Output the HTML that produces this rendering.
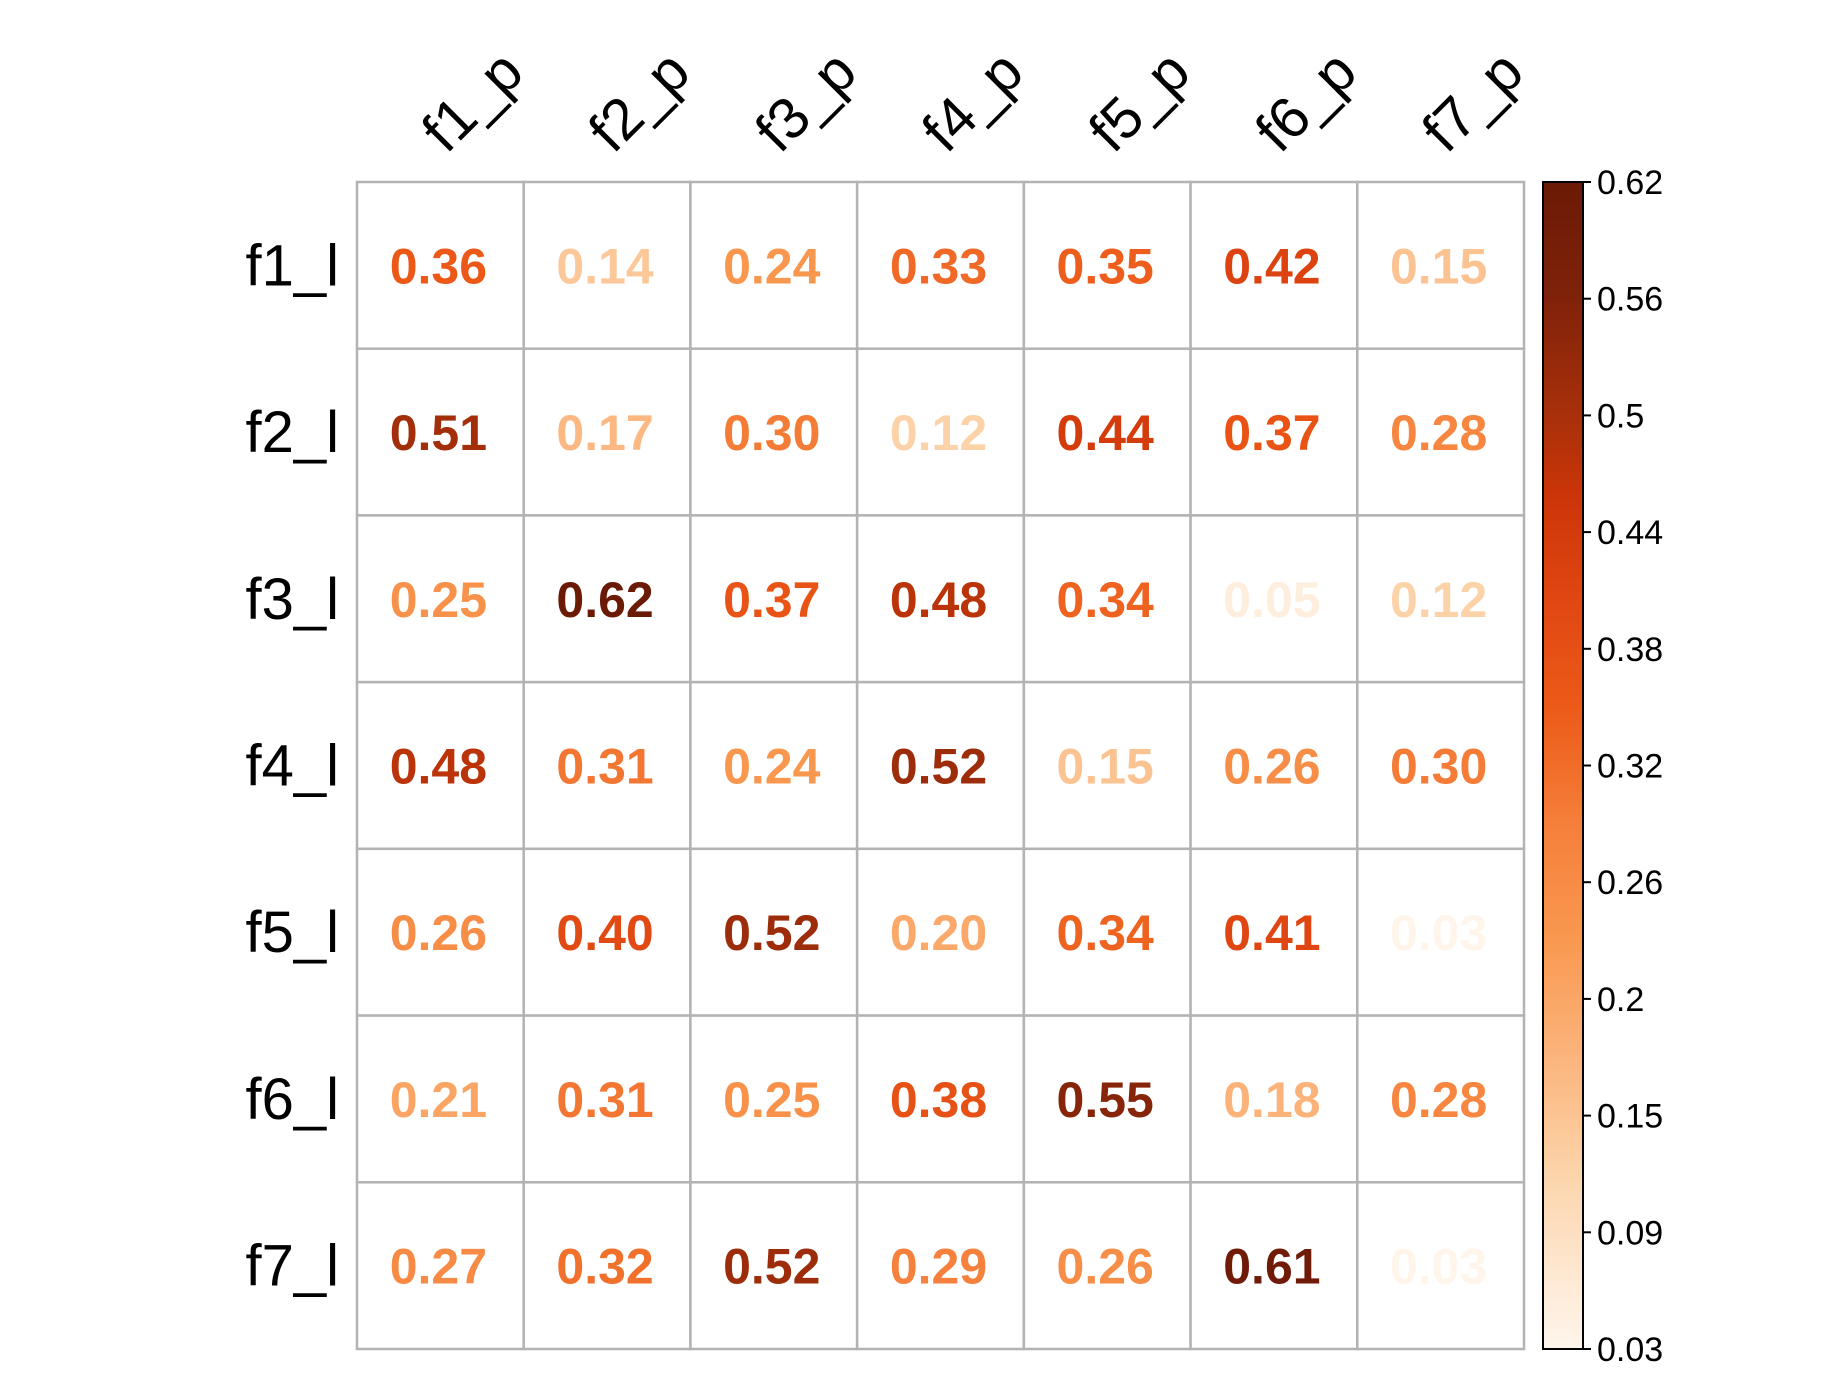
<!DOCTYPE html>
<html><head><meta charset="utf-8"><style>
html,body{margin:0;padding:0;background:#fff;}
svg{display:block;font-family:"Liberation Sans",Arial,sans-serif;}
</style></head><body>
<svg id="chart" width="1838" height="1400" viewBox="0 0 1838 1400" xmlns="http://www.w3.org/2000/svg">
<defs>
<linearGradient id="cbgrad" x1="0" y1="1" x2="0" y2="0"></linearGradient>
</defs>
<g id="cells"></g>
<g id="labels"></g>
<g id="colorbar"></g>
</svg>
<script>
const rowLabels = ["f1_l","f2_l","f3_l","f4_l","f5_l","f6_l","f7_l"];
const colLabels = ["f1_p","f2_p","f3_p","f4_p","f5_p","f6_p","f7_p"];
const row1 = [0.36,0.14,0.24,0.33,0.35,0.42,0.15];
const row2 = [0.51,0.17,0.30,0.12,0.44,0.37,0.28];
const row3 = [0.25,0.62,0.37,0.48,0.34,0.05,0.12];
const row4 = [0.48,0.31,0.24,0.52,0.15,0.26,0.30];
const row5 = [0.26,0.40,0.52,0.20,0.34,0.41,0.03];
const row6 = [0.21,0.31,0.25,0.38,0.55,0.18,0.28];
const row7 = [0.27,0.32,0.52,0.29,0.26,0.61,0.03];
const values = [row1,row2,row3,row4,row5,row6,row7];
const cbTicks = ["0.62","0.56","0.5","0.44","0.38","0.32","0.26","0.2","0.15","0.09","0.03"];
const vmin = 0.03, vmax = 0.62;

const NS = "http://www.w3.org/2000/svg";
const GX0 = 357, GY0 = 182, GW = 1167, GH = 1167;
const cw = GW / colLabels.length, ch = GH / rowLabels.length;
function xPos(i){ return GX0 + i*cw; }
function yPos(j){ return GY0 + j*ch; }
const CBX = 1543, CBW = 40, CBY0 = 182, CBY1 = 1349;

const stopOff = [0,0.05,0.15,0.25,0.35,0.45,0.55,0.65,0.73,0.8,0.9,1];
const stopCol = ["#fff5eb","#feebd8","#fcd4aa","#fbb47c","#f99850","#f57f3a","#ec5a18","#df4512","#cc3508","#a8300a","#80220a","#6b1a06"];
const grad = document.getElementById("cbgrad");
stopOff.forEach((o,k)=>{
  const s = document.createElementNS(NS,"stop");
  s.setAttribute("offset", o); s.setAttribute("stop-color", stopCol[k]);
  grad.appendChild(s);
});
function hex(c){return [parseInt(c.substr(1,2),16),parseInt(c.substr(3,2),16),parseInt(c.substr(5,2),16)];}
function color(v){
  const t = Math.max(0, Math.min(1, (v - vmin)/(vmax - vmin)));
  let k = 0; while (k < stopOff.length-2 && t > stopOff[k+1]) k++;
  const f = (t - stopOff[k])/(stopOff[k+1]-stopOff[k]);
  const a = hex(stopCol[k]), b = hex(stopCol[k+1]);
  return "rgb("+a.map((x,i)=>Math.round(x+(b[i]-x)*f)).join(",")+")";
}
function mk(tag, attrs, parent){
  const e = document.createElementNS(NS, tag);
  for (const k in attrs) e.setAttribute(k, attrs[k]);
  parent.appendChild(e); return e;
}
const gCells = document.getElementById("cells");
const gLab = document.getElementById("labels");
const gCb = document.getElementById("colorbar");

values.forEach((row, j) => {
  row.forEach((v, i) => {
    const r = mk("rect", {x:xPos(i), y:yPos(j), width:cw, height:ch, fill:"#fff", stroke:"#b3b3b3", "stroke-width":2.5}, gCells);
    
    
    const t = mk("text", {x:xPos(i)+cw/2-2, y:yPos(j)+ch/2+18, "text-anchor":"middle", "font-size":50, "font-weight":"bold", fill:color(v)}, gCells);
    t.textContent = v.toFixed(2);
    
    
  });
});
rowLabels.forEach((l, j) => {
  const t = mk("text", {x:339, y:yPos(j)+ch/2+20, "text-anchor":"end", "font-size":58, fill:"#000"}, gLab);
  t.textContent = l;
  
  
});
colLabels.forEach((l, i) => {
  const x = xPos(i)+cw/2+6, y = 155;
  const t = mk("text", {x:x, y:y, "font-size":58, fill:"#000", transform:"rotate(-45 "+x+" "+y+")"}, gLab);
  t.textContent = l;
  
  
});
const bar = mk("rect", {x:CBX, y:CBY0, width:CBW, height:CBY1-CBY0, fill:"url(#cbgrad)", stroke:"#000", "stroke-width":2}, gCb);


cbTicks.forEach((s, k) => {
  const y = CBY0 + k*(CBY1-CBY0)/(cbTicks.length-1);
  const ln = mk("line", {x1:CBX+CBW, x2:CBX+CBW+8, y1:y, y2:y, stroke:"#000", "stroke-width":2}, gCb);
  
  
  const t = mk("text", {x:1597, y:y+12, "font-size":34, fill:"#000"}, gCb);
  t.textContent = s;
  
  
});
</script>
</body></html>
